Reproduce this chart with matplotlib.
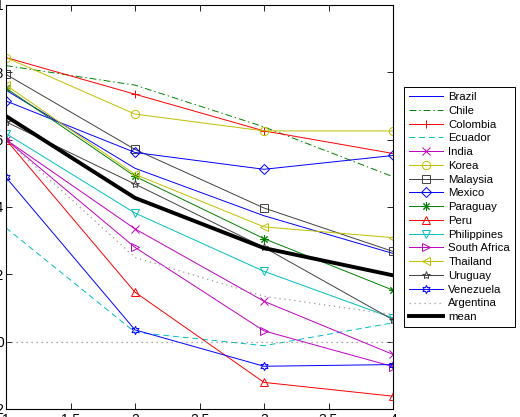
import numpy as np
import matplotlib
matplotlib.use("Agg")
import matplotlib.pyplot as plt

plt.rcParams['font.family'] = ['Liberation Sans', 'DejaVu Sans']

x = [1, 2, 3, 4]

brazil = [0.747, 0.515, 0.374, 0.262]
chile = [0.82, 0.762, 0.638, 0.49]
colombia = [0.844, 0.735, 0.626, 0.559]
ecuador = [0.338, 0.028, -0.012, 0.056]
india = [0.6, 0.335, 0.12, -0.038]
korea = [0.844, 0.676, 0.626, 0.626]
malaysia = [0.794, 0.571, 0.397, 0.268]
mexico = [0.715, 0.562, 0.512, 0.553]
paraguay = [0.753, 0.491, 0.306, 0.153]
peru = [0.6, 0.147, -0.121, -0.162]
philippines = [0.618, 0.382, 0.209, 0.07]
south_africa = [0.6, 0.28, 0.032, -0.074]
thailand = [0.762, 0.497, 0.341, 0.309]
uruguay = [0.653, 0.468, 0.28, 0.065]
venezuela = [0.488, 0.035, -0.073, -0.068]
argentina = [0.6, 0.25, 0.135, 0.08]
mean = [0.67, 0.427, 0.278, 0.197]

B = (0, 0, 1)
G = (0, 0.5, 0)
R = (1, 0, 0)
C = (0, 0.75, 0.75)
M = (0.75, 0, 0.75)
Y = (0.75, 0.75, 0)
K = (0.25, 0.25, 0.25)

DASH = (0, (6, 4))
DASHDOT = (0, (7, 3, 1.5, 3))

series = [
    ("Brazil", brazil, B, "-", None),
    ("Chile", chile, G, DASHDOT, None),
    ("Colombia", colombia, R, "-", "+"),
    ("Ecuador", ecuador, C, DASH, None),
    ("India", india, M, "-", "x"),
    ("Korea", korea, Y, "-", "o"),
    ("Malaysia", malaysia, K, "-", "s"),
    ("Mexico", mexico, B, "-", "D"),
    ("Paraguay", paraguay, G, "-", (8, 2, 0)),
    ("Peru", peru, R, "-", "^"),
    ("Philippines", philippines, C, "-", "v"),
    ("South Africa", south_africa, M, "-", ">"),
    ("Thailand", thailand, Y, "-", "<"),
    ("Uruguay", uruguay, K, "-", "*"),
    ("Venezuela", venezuela, B, "-", (6, 1, 0)),
]

fig = plt.figure(figsize=(5.2, 4.17), dpi=100)
ax = fig.add_axes([6/520, 8/417, 387/520, 404/417])

for name, ys, col, ls, mk in series:
    ms = 5 if mk == "D" else 6
    ax.plot(x, ys, color=col, linestyle=ls, marker=mk, markersize=ms,
            markerfacecolor='none', markeredgewidth=0.7, linewidth=0.7, label=name)

ax.plot(x, argentina, color=(0.6, 0.6, 0.6), linestyle=(0, (1, 3)), linewidth=0.9, label="Argentina")
ax.plot(x, mean, color='k', linewidth=2.8, label="mean")
ax.axhline(0, color=(0.55, 0.55, 0.55), linestyle=(0, (1, 3)), linewidth=0.9)

ax.set_xlim(1, 4)
ax.set_ylim(-0.2, 1.0)
ax.set_xticks([1, 1.5, 2, 2.5, 3, 3.5, 4])
ax.set_xticklabels(["1", "1.5", "2", "2.5", "3", "3.5", "4"])
ax.set_yticks([-0.2, 0, 0.2, 0.4, 0.6, 0.8, 1.0])
ax.set_yticklabels(["-0.2", "0", "0.2", "0.4", "0.6", "0.8", "1"])
ax.tick_params(direction='in', top=True, right=True, length=4, width=0.6,
               labelsize=10, pad=3)
ax.tick_params(axis='y', pad=1.5)
for s in ax.spines.values():
    s.set_linewidth(0.8)

leg = ax.legend(loc='upper left', bbox_to_anchor=(404/520, 1 - 87/417),
                bbox_transform=fig.transFigure, borderaxespad=0, fontsize=8.2,
                labelspacing=0.33, handlelength=3.0, handletextpad=0.45,
                borderpad=0.45, fancybox=False, framealpha=1)
leg.get_frame().set_edgecolor('k')
leg.get_frame().set_linewidth(0.7)

fig.savefig("out.png", dpi=100)
